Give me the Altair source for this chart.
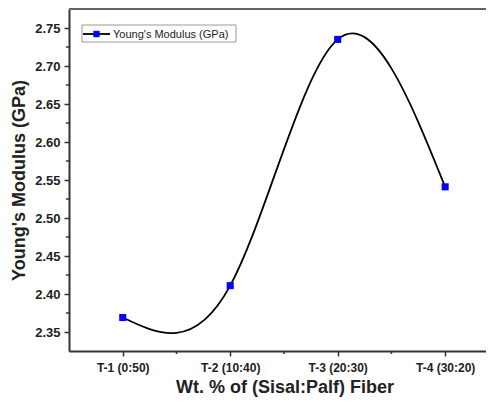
import json
import altair as alt
import pandas as pd

# ---- data ----
categories = ["T-1 (0:50)", "T-2 (10:40)", "T-3 (20:30)", "T-4 (30:20)"]
modulus = [2.369, 2.411, 2.735, 2.541]
series_name = "Young's Modulus (GPa)"
y_major = [2.35, 2.40, 2.45, 2.50, 2.55, 2.60, 2.65, 2.70, 2.75]
y_minor = [2.375, 2.425, 2.475, 2.525, 2.575, 2.625, 2.675, 2.725]
x_major = [0, 1, 2, 3]
x_minor = [0.5, 1.5, 2.5]

W, H = 417, 342
FONT = "Liberation Sans"
AX = "#333333"

df = pd.DataFrame({"idx": list(range(len(categories))), "cat": categories, "val": modulus})
df_xm = pd.DataFrame({"m": x_minor})
df_ym = pd.DataFrame({"m": y_minor})

label_expr = json.dumps(categories) + "[datum.value]"

xs = alt.Scale(domain=[-0.5, 3.38], nice=False, zero=False)
ys = alt.Scale(domain=[2.325, 2.775], nice=False, zero=False)

x_axis = alt.Axis(
    values=x_major, labelExpr=label_expr, grid=False,
    tickSize=5, tickWidth=1.5, tickColor=AX, domainColor=AX, domainWidth=2,
    labelFont=FONT, labelFontWeight="bold", labelFontSize=12, labelColor="#222222",
    labelPadding=6,
    title="Wt. % of (Sisal:Palf) Fiber", titleFont=FONT, titleFontSize=18,
    titleFontWeight="bold", titleColor="#222222", titleBaseline="alphabetic",
    titleX=215.5, titleY=41,
)
y_axis = alt.Axis(
    values=y_major, format=".2f", grid=False,
    tickSize=5, tickWidth=1.5, tickColor=AX, domainColor=AX, domainWidth=2,
    labelFont=FONT, labelFontWeight="bold", labelFontSize=13, labelColor="#222222",
    labelPadding=4,
    title="Young's Modulus (GPa)", titleFont=FONT, titleFontSize=18,
    titleFontWeight="bold", titleColor="#222222", titlePadding=6,
)

base = alt.Chart(df)

curve = base.mark_line(interpolate="natural", color="black", strokeWidth=1.8).encode(
    x=alt.X("idx:Q", scale=xs, axis=x_axis),
    y=alt.Y("val:Q", scale=ys, axis=y_axis),
)
points = base.mark_square(size=50, color="#0000ff", opacity=1).encode(
    x=alt.X("idx:Q", scale=xs, axis=x_axis),
    y=alt.Y("val:Q", scale=ys, axis=y_axis),
)

x_minor_ticks = alt.Chart(df_xm).mark_rule(color=AX, strokeWidth=1.5).encode(
    x=alt.X("m:Q", scale=xs, axis=x_axis),
    y=alt.value(H), y2=alt.value(H + 3),
)
y_minor_ticks = alt.Chart(df_ym).mark_rule(color=AX, strokeWidth=1.5).encode(
    y=alt.Y("m:Q", scale=ys, axis=y_axis),
    x=alt.value(0), x2=alt.value(-3),
)

one = alt.Data(values=[{}])
top_border = alt.Chart(one).mark_rule(color="#666666", strokeWidth=2).encode(
    x=alt.value(0), x2=alt.value(W), y=alt.value(0)
)

# legend (drawn by hand: line with square marker)
leg_box = alt.Chart(one).mark_rect(fill="white", stroke="#999999", strokeWidth=1).encode(
    x=alt.value(13), x2=alt.value(167), y=alt.value(16), y2=alt.value(33)
)
leg_line = alt.Chart(one).mark_rule(color="black", strokeWidth=1.8).encode(
    x=alt.value(14), x2=alt.value(41), y=alt.value(25)
)
leg_sq = alt.Chart(one).mark_square(size=40, color="#0000ff", opacity=1).encode(
    x=alt.value(27.5), y=alt.value(25)
)
leg_txt = alt.Chart(one).mark_text(
    text=series_name, align="left", baseline="middle", font=FONT, fontSize=11, color="#222222"
).encode(x=alt.value(44), y=alt.value(25.5))

chart = alt.layer(
    top_border, x_minor_ticks, y_minor_ticks, curve, points, leg_box, leg_line, leg_sq, leg_txt
).properties(
    width=W, height=H,
    autosize=alt.AutoSizeParams(type="none"),
    padding={"left": 61, "top": 1, "right": 0, "bottom": 46},
    background="white",
).configure_view(stroke=None)

chart.save("out.html", embed_options={"renderer": "svg", "actions": False})
